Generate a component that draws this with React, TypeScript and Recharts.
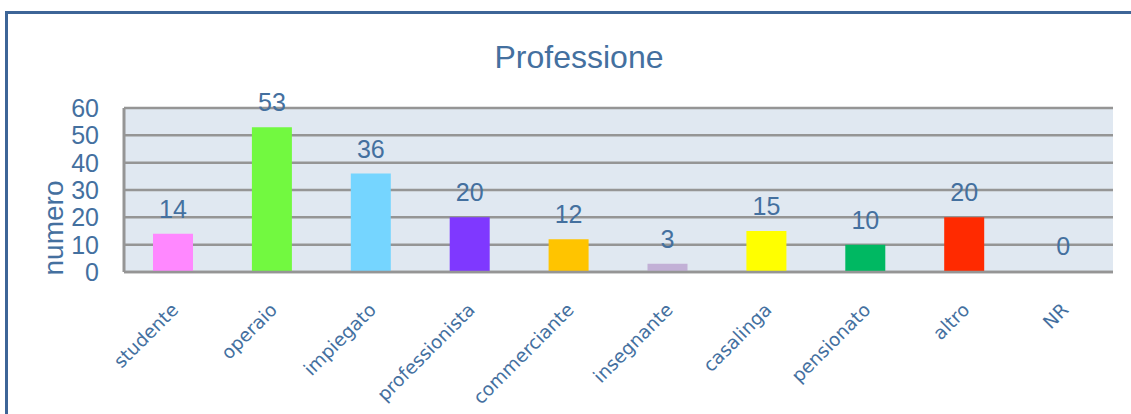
import { Bar, BarChart, CartesianGrid, Cell, LabelList, XAxis, YAxis } from 'recharts'

const categories = ['studente', 'operaio', 'impiegato', 'professionista', 'commerciante', 'insegnante', 'casalinga', 'pensionato', 'altro', 'NR']
const values = [14, 53, 36, 20, 12, 3, 15, 10, 20, 0]
const colors = ['#FF88FF', '#72F940', '#75D5FF', '#7F38FF', '#FFC400', '#C2B0D6', '#FFFF00', '#00B862', '#FF2A00', 'transparent']
const yTicks = [0, 10, 20, 30, 40, 50, 60]

const data = categories.map((name, i) => ({ name, numero: values[i] }))

const blue = '#44709F'
const grid = '#959595'

const CatTick = (props: any) => {
  const { x, y, payload } = props
  return (
    <text
      transform={`translate(${x + 6},${y + 39}) rotate(-45)`}
      textAnchor="end"
      fontFamily="DejaVu Sans"
      fontSize={18.5}
      fill={blue}
    >
      {payload.value}
    </text>
  )
}

const App = () => {
  return (
    <div style={{ position: 'absolute', left: 0, top: 0, width: 1131, height: 414, overflow: 'hidden', background: '#fff' }}>
      <div style={{ position: 'absolute', left: 5, top: 11, width: 1300, height: 600, border: '3px solid #3D6597', boxSizing: 'border-box' }} />
      <svg width={1131} height={414} style={{ position: 'absolute', left: 0, top: 0 }}>
        <text x={579} y={68} textAnchor="middle" fontFamily="Liberation Sans" fontSize={32} fill={blue}>Professione</text>
        <text transform="translate(63,228) rotate(-90)" textAnchor="middle" fontFamily="Liberation Sans" fontSize={28} fill={blue}>numero</text>
      </svg>
      <div style={{ position: 'absolute', left: 0, top: 0 }}>
        <BarChart width={1131} height={414} data={data} margin={{ top: 108, right: 18, bottom: 42, left: 64 }}>
          <CartesianGrid vertical={false} stroke={grid} strokeWidth={2.5} fill="#E0E8F1" fillOpacity={1} />
          <XAxis dataKey="name" height={100} interval={0} tickLine={false} tickSize={0} tickMargin={0} axisLine={{ stroke: grid, strokeWidth: 2.5 }} tick={<CatTick />} />
          <YAxis width={60} domain={[0, 60]} ticks={yTicks} interval={0} tickLine={false} tickSize={0} tickMargin={25} axisLine={{ stroke: grid, strokeWidth: 3 }} tick={{ fill: blue, fontSize: 25, fontFamily: 'Liberation Sans' }} />
          <Bar dataKey="numero" barSize={40} minPointSize={1} isAnimationActive={false}>
            {data.map((d, i) => (
              <Cell key={d.name} fill={colors[i]} />
            ))}
            <LabelList dataKey="numero" position="top" offset={16} fill={blue} fontSize={25} fontFamily="Liberation Sans" />
          </Bar>
        </BarChart>
      </div>
    </div>
  )
}

export default App
